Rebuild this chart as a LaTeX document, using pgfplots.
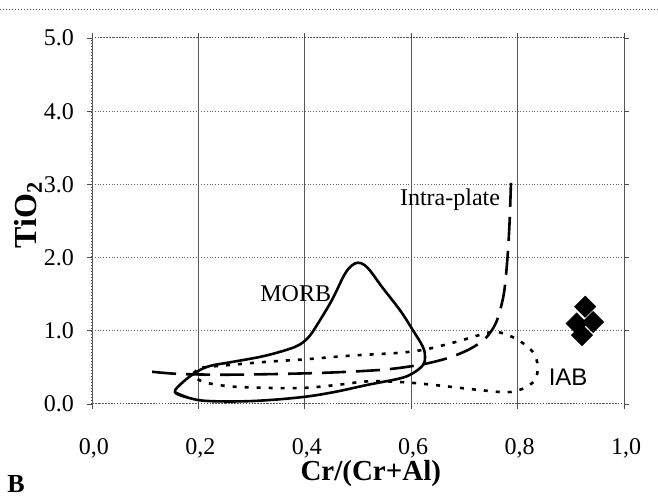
\documentclass[border=0pt]{standalone}
\usepackage{fontspec}
\setmainfont{Liberation Serif}
\newfontfamily\arial{Liberation Sans}
\usepackage{pgfplots}
\pgfplotsset{compat=1.18}

\begin{document}
\begin{tikzpicture}
\path[use as bounding box] (-46pt,-46pt) rectangle (283pt,202pt);
% scanned frame line at the top
\draw[densely dotted, line width=0.5pt, black!70] (-46pt,197pt) -- (283pt,197pt);
\begin{axis}[
  at={(0,0)}, anchor=south west,
  scale only axis, width=266pt, height=183pt,
  xmin=0, xmax=1, ymin=0, ymax=5,
  xtick={0,0.2,0.4,0.6,0.8,1},
  xticklabels={{0,0},{0,2},{0,4},{0,6},{0,8},{1,0}},
  ytick={0,1,2,3,4,5},
  yticklabels={0.0,1.0,2.0,3.0,4.0,5.0},
  ticklabel style={font=\fontsize{12}{14}\selectfont},
  xticklabel style={yshift=-11pt, xshift=1pt},
  yticklabel style={xshift=-3pt},
  tick align=outside, major tick length=2.5pt,
  tick style={black!70, line width=0.4pt},
  grid=major,
  x grid style={black!65, line width=0.4pt},
  y grid style={densely dotted, black!60, line width=0.5pt},
  axis line style={densely dotted, black!70, line width=0.5pt},
  xlabel={Cr/(Cr+Al)},
  xlabel style={font=\bfseries\fontsize{14.5}{16}\selectfont,
    at={(axis description cs:0.524,0)}, anchor=center, yshift=-35pt},
  ylabel={TiO\textsubscript{2}},
  ylabel style={font=\bfseries\fontsize{16}{18}\selectfont,
    at={(axis description cs:-0.12,0.516)}, anchor=center},
  clip=false,
]
% MORB field
\addplot[smooth, tension=0.6, black, line width=1.3pt] coordinates {
  (0.156,0.16) (0.184,0.08) (0.22,0.04) (0.30,0.04) (0.39,0.09)
  (0.453,0.16) (0.517,0.26) (0.579,0.35) (0.603,0.42) (0.622,0.53)
  (0.626,0.64) (0.622,0.78) (0.603,1.01) (0.579,1.28) (0.545,1.60)
  (0.525,1.80) (0.512,1.90) (0.500,1.93) (0.488,1.89) (0.474,1.76)
  (0.451,1.42) (0.423,1.08) (0.408,0.92) (0.39,0.81) (0.366,0.74)
  (0.32,0.65) (0.26,0.57) (0.222,0.52) (0.197,0.44) (0.171,0.30)
  (0.156,0.16) (0.184,0.08)
};
% Intra-plate field
\addplot[smooth, black, line width=1.3pt, dash pattern=on 12pt off 5pt] coordinates {
  (0.113,0.44) (0.165,0.41) (0.25,0.40) (0.35,0.41) (0.45,0.43)
  (0.55,0.47) (0.62,0.54) (0.67,0.63) (0.71,0.75) (0.74,0.90)
  (0.76,1.12) (0.774,1.50) (0.781,2.00) (0.785,2.50) (0.788,3.13)
};
% IAB field
\addplot[smooth, black, line width=1.3pt, dash pattern=on 2pt off 4pt] coordinates {
  (0.19,0.40) (0.203,0.49) (0.254,0.53) (0.335,0.58) (0.40,0.61)
  (0.485,0.66) (0.579,0.70) (0.63,0.75) (0.69,0.86) (0.742,0.97)
  (0.765,0.98) (0.80,0.88) (0.83,0.70) (0.838,0.50) (0.832,0.32)
  (0.81,0.21) (0.78,0.16) (0.73,0.19) (0.68,0.23) (0.63,0.27)
  (0.58,0.30) (0.52,0.31) (0.46,0.26) (0.40,0.22) (0.33,0.22)
  (0.26,0.24) (0.21,0.30) (0.19,0.40) (0.203,0.49)
};
% samples
\addplot[only marks, mark=square*, mark size=3.7pt,
  mark options={rotate=45, fill=black, draw=black}] coordinates {
  (0.927,1.33) (0.911,1.10) (0.942,1.12) (0.921,0.94)
};
\node[font=\fontsize{12}{14}\selectfont] at (axis cs:0.383,1.51) {MORB};
\node[font=\fontsize{12}{14}\selectfont] at (axis cs:0.673,2.79) {Intra-plate};
\node[font=\arial\fontsize{12}{14}\selectfont] at (axis cs:0.895,0.37) {IAB};
\end{axis}
\node[font=\bfseries\fontsize{13}{15}\selectfont, anchor=base] at (-38pt,-44.5pt) {B};
\end{tikzpicture}
\end{document}
